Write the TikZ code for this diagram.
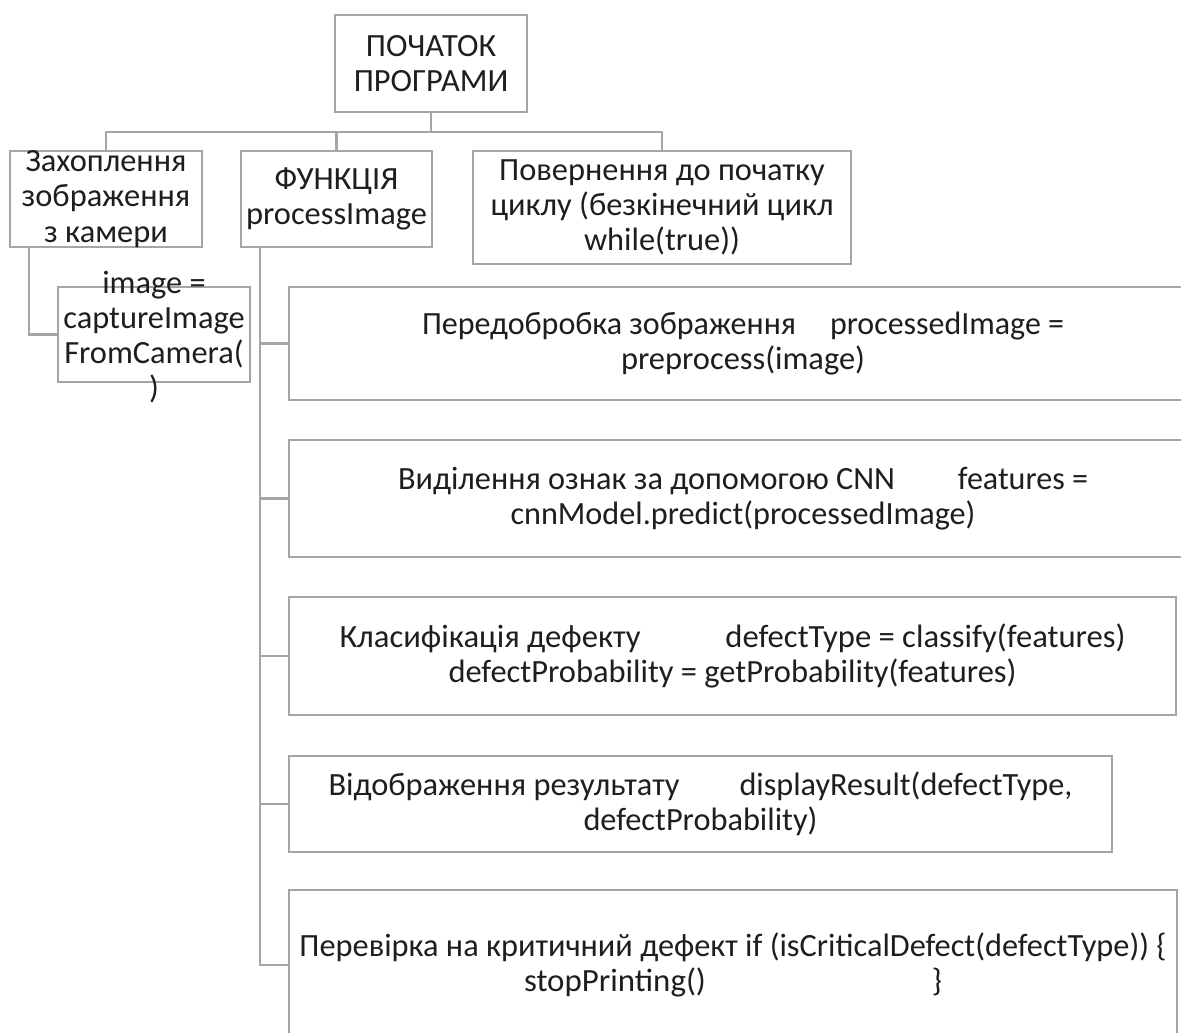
\documentclass[tikz,border=0pt]{standalone}
\usepackage{fontspec}
\usepackage{graphicx}
\setmainfont{Carlito}
\newlength\pxu
\setlength\pxu{0.5pt}
\newcommand\sx[2]{\resizebox{#1\pxu}{\height}{#2}}
\definecolor{boxline}{RGB}{165,165,165}
\definecolor{txt}{RGB}{30,30,30}
\tikzset{
  box/.style={draw=boxline, line width=1.25pt, inner sep=0pt, minimum width=#1\pxu, rectangle},
  lbl/.style={text=txt, align=center, inner sep=0pt, font=\fontsize{16.2pt}{17.6pt}\selectfont},
  conn/.style={draw=boxline, line width=1.25pt}
}
\begin{document}
\begin{tikzpicture}[x=0.5pt,y=-0.5pt]
\useasboundingbox (0,0) rectangle (1181,1032);
\fill[white] (0,0) rectangle (1181,1032);
% top level
\node[box=192, minimum height=97\pxu] (top) at (431,63.5) {};
\node[lbl] (topt) at (top.center) {ПОЧАТОК\\ПРОГРАМИ};
\node[box=192, minimum height=96\pxu] (lbox) at (106,199) {};
\node[lbl] (lboxt) at (lbox.center) {Захоплення\\зображення\\з камери};
\node[box=191, minimum height=96\pxu] (mbox) at (336.5,199) {};
\node[lbl] (mboxt) at (mbox.center) {ФУНКЦІЯ\\processImage};
\node[box=378, minimum height=113\pxu] (rbox) at (662,207.5) {};
\node[lbl] (rboxt) at (rbox.center) {Повернення до початку\\циклу (безкінечний цикл\\while(true))};
\node[box=192, minimum height=95\pxu] (imgbox) at (154,334.5) {};
\node[lbl] (imgt) at (154,337) {image =\\captureImage\\FromCamera(\\)};
% lower boxes
\node[box=908, minimum height=113\pxu] (b1) at (743,343.5) {};
\node[lbl] (b1t) at (b1.center) {\makebox[642\pxu]{\sx{374}{Передобробка зображення}\hfill\sx{234}{processedImage =}}\\\sx{244}{preprocess(image)}};
\node[box=908, minimum height=117\pxu] (b2) at (743,498.5) {};
\node[lbl] (b2t) at (b2.center) {\makebox[690\pxu]{\sx{497}{Виділення ознак за допомогою CNN}\hfill\sx{130}{features =}}\\\sx{465}{cnnModel.predict(processedImage)}};
\node[box=887, minimum height=118\pxu] (b3) at (732.5,656) {};
\node[lbl] (b3t) at (b3.center) {\makebox[786\pxu]{\sx{301}{Класифікація дефекту}\hfill\sx{400}{defectType = classify(features)}}\\\sx{568}{defectProbability = getProbability(features)}};
\node[box=823, minimum height=96\pxu] (b4) at (700.5,804) {};
\node[lbl] (b4t) at (b4.center) {\makebox[744\pxu]{\sx{351}{Відображення результату}\hfill\sx{333}{displayResult(defectType,}}\\\sx{234}{defectProbability)}};
\node[box=888, minimum height=150\pxu] (b5) at (733,965) {};
\node[lbl] (b5t) at (b5.center) {\sx{867}{Перевірка на критичний дефект if (isCriticalDefect(defectType)) \{}\\\makebox[418\pxu]{\sx{182}{stopPrinting()}\hfill\}}};
% connectors
\coordinate (bus) at (431,132);
\draw[conn] (top.south) -- (bus);
\draw[conn] (bus) -| (lbox.north);
\draw[conn] (bus) -| (mbox.north);
\draw[conn] (bus) -| (rbox.north);
\draw[conn] (lbox.south west) ++(20,0) |- (imgbox.west);
\draw[conn] (mbox.south west) ++(20,0) |- (b1.west);
\draw[conn] (mbox.south west) ++(20,0) |- (b2.west);
\draw[conn] (mbox.south west) ++(20,0) |- (b3.west);
\draw[conn] (mbox.south west) ++(20,0) |- (b4.west);
\draw[conn] (mbox.south west) ++(20,0) |- (b5.west);
\end{tikzpicture}
\end{document}
